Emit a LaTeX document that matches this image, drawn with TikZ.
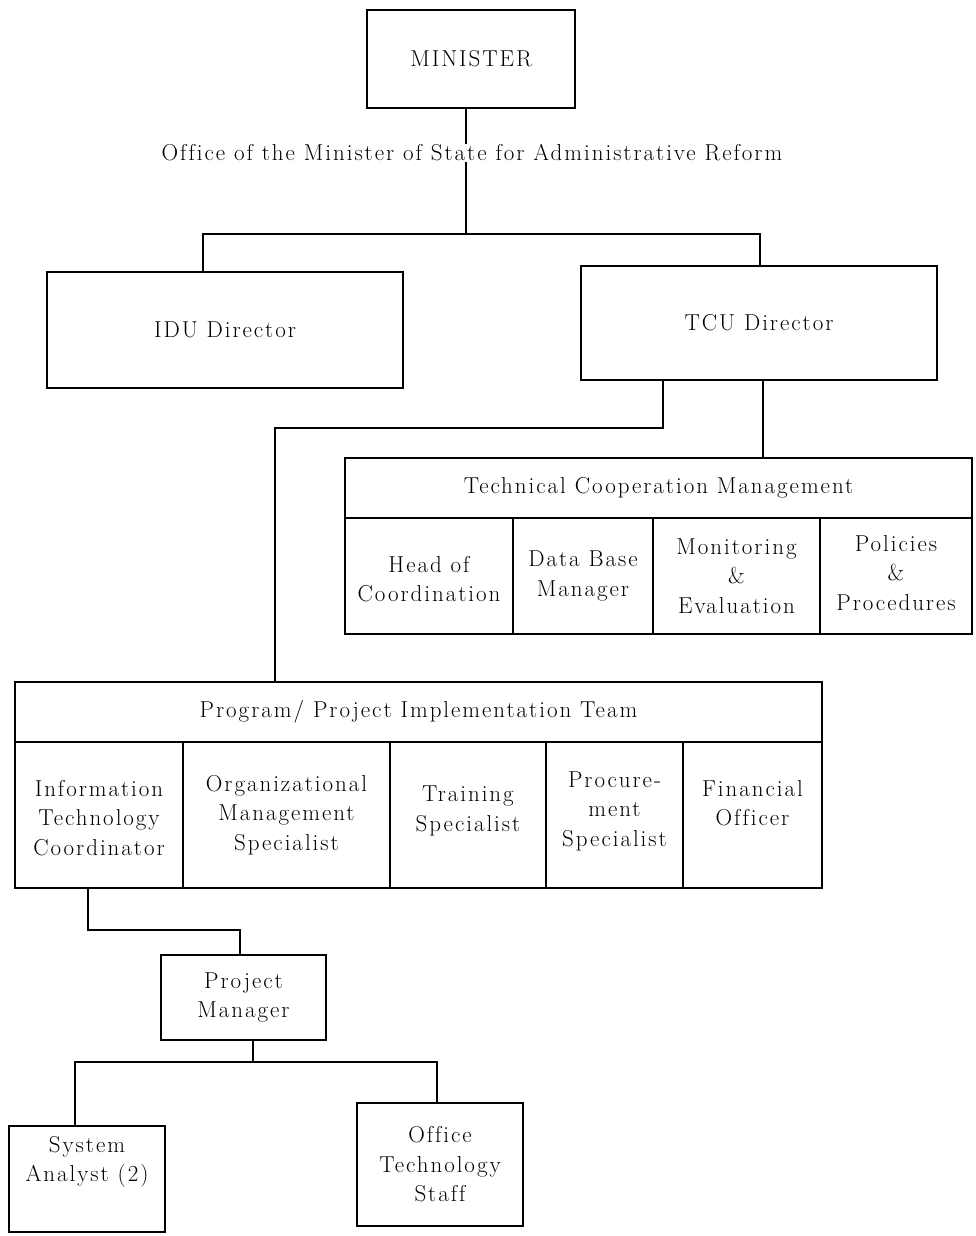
\documentclass[tikz,border=0pt]{standalone}
\usepackage{fontspec}
\setmainfont{Latin Modern Roman}[LetterSpace=8.5,Ligatures=NoCommon]
\usetikzlibrary{calc}
\begin{document}
\begin{tikzpicture}[x=1pt,y=-1pt,
  line width=1.1pt,
  txt/.style={font=\fontsize{23}{29.5}\selectfont, align=center, inner sep=0pt},
  box/.style={txt, draw, minimum width=#1},
  wire/.style={line width=1.1pt}
]
\useasboundingbox (0,0) rectangle (976,1236);

% top
\node[box=208pt, minimum height=98pt] (minister) at (471,59) {MINISTER};
\node[txt] (office) at (472,153) {Office of the Minister of State for Administrative Reform};

\node[box=356pt, minimum height=116pt] (idu) at (225,330) {IDU Director};
\node[box=356pt, minimum height=114pt] (tcu) at (759,323) {TCU Director};

% Technical Cooperation Management
\node[box=627pt, minimum height=60pt] (tcm) at (658.5,488) {Technical Cooperation Management};
\node[box=168pt, minimum height=116pt, label={[txt,yshift=-3pt]center:Head of\\Coordination}] (hoc) at (429,576) {};
\node[box=140pt, minimum height=116pt] (dbm) at (583,576) {Data Base\\Manager};
\node[box=167pt, minimum height=116pt] (mae) at (736.5,576) {Monitoring\\\&\\Evaluation};
\node[box=152pt, minimum height=116pt, label={[txt,yshift=3pt]center:Policies\\\&\\Procedures}] (pap) at (896,576) {};

% Program/Project Implementation Team
\node[box=807pt, minimum height=60pt] (ppit) at (418.5,712) {Program/ Project Implementation Team};
\node[box=168pt, minimum height=146pt, label={[txt,yshift=-3pt]center:Information\\Technology\\Coordinator}] (itc) at (99,815) {};
\node[box=207pt, minimum height=146pt] (oms) at (286.5,815) {Organizational\\Management\\Specialist};
\node[box=156pt, minimum height=146pt, label={[txt,yshift=4pt]center:Training\\Specialist}] (trs) at (468,815) {};
\node[box=137pt, minimum height=146pt, label={[txt,yshift=4pt]center:Procure-\\ment\\Specialist}] (prs) at (614.5,815) {};
\node[box=139pt, minimum height=146pt, label={[txt,yshift=12pt]center:Financial\\Officer}] (fin) at (752.5,815) {};

% lower part
\node[box=165pt, minimum height=85pt] (pm) at (243.5,997.5) {Project\\Manager};
\node[box=156pt, minimum height=106pt, label={[txt,yshift=17pt]center:System\\Analyst (2)}] (sa) at (87,1179) {};
\node[box=166pt, minimum height=123pt] (ots) at (440,1164.5) {Office\\Technology\\Staff};

% bend coordinates
\coordinate (j1) at (466,234);
\coordinate (l1) at (203,234);
\coordinate (r1) at (760,234);
\coordinate (b1) at (663,428);
\coordinate (b2) at (275,428);
\coordinate (b3) at (763,428);
\coordinate (c1) at (88,930);
\coordinate (c2) at (240,930);
\coordinate (d0) at (253,1062);
\coordinate (d1) at (75,1062);
\coordinate (d2) at (437,1062);

% connectors
\draw[wire] (minister.south -| j1) -- (office.north -| j1);
\draw[wire] (office.south -| j1) -- (j1);
\draw[wire] (idu.north -| l1) -- (l1) -- (r1) -- (tcu.north -| r1);
\draw[wire] (tcu.south -| b1) -- (b1) -- (b2) -- (ppit.north -| b2);
\draw[wire] (tcu.south -| b3) -- (tcm.north -| b3);
\draw[wire] (itc.south -| c1) -- (c1) -- (c2) -- (pm.north -| c2);
\draw[wire] (pm.south -| d0) -- (d0);
\draw[wire] (sa.north -| d1) -- (d1) -- (d2) -- (ots.north -| d2);
\end{tikzpicture}
\end{document}
